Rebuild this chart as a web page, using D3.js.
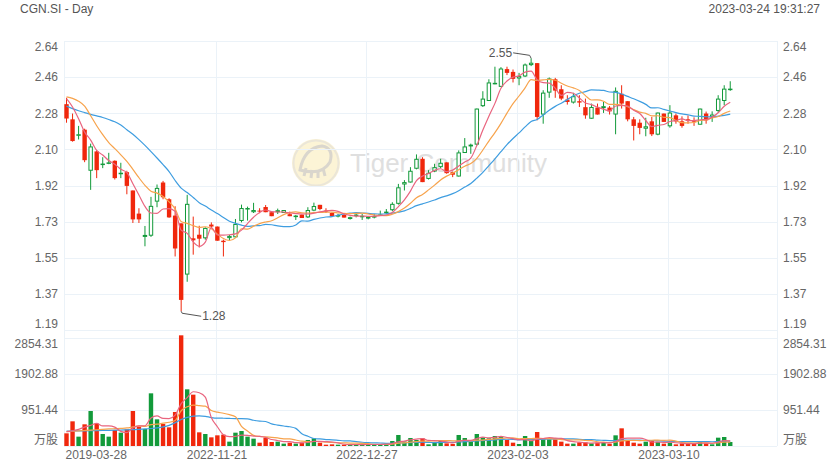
<!DOCTYPE html>
<html>
<head>
<meta charset="utf-8">
<script src="https://cdn.jsdelivr.net/npm/d3@7"></script>
<style>
  body { margin: 0; background: #fff; }
  svg text { font-family: "Liberation Sans", Arial, "Noto Sans CJK SC", sans-serif; }
</style>
</head>
<body>
<script>
// daily candles (index 0 = 2019-03-28, index 110 = 2023-03-24)
const opens = [2.323, 2.247, 2.167, 2.195, 1.989, 2.086, 2.020, 2.026, 2.039, 1.972,
  1.982, 1.890, 1.774, 1.657, 1.663, 1.834, 1.930, 1.846, 1.764, 1.725,
  1.468, 1.650, 1.668, 1.650, 1.719, 1.709, 1.638, 1.651, 1.655, 1.737,
  1.797, 1.781, 1.789, 1.807, 1.781, 1.781, 1.777, 1.771, 1.759, 1.769,
  1.755, 1.789, 1.818, 1.789, 1.777, 1.759, 1.767, 1.747, 1.762, 1.759,
  1.749, 1.754, 1.767, 1.776, 1.791, 1.823, 1.920, 1.930, 1.999, 2.049,
  1.948, 1.985, 2.007, 2.031, 1.982, 1.960, 2.078, 2.111, 2.120, 2.313,
  2.339, 2.425, 2.410, 2.499, 2.485, 2.452, 2.462, 2.519, 2.529, 2.271,
  2.381, 2.448, 2.398, 2.346, 2.331, 2.338, 2.308, 2.250, 2.306, 2.303,
  2.306, 2.271, 2.375, 2.338, 2.247, 2.230, 2.200, 2.237, 2.170, 2.276,
  2.212, 2.267, 2.237, 2.247, 2.242, 2.220, 2.276, 2.259, 2.289, 2.339,
  2.396]
const highs = [2.355, 2.276, 2.214, 2.200, 2.125, 2.091, 2.057, 2.079, 2.041, 2.029,
  1.989, 1.890, 1.801, 1.712, 1.858, 1.920, 1.938, 1.851, 1.811, 1.725,
  1.868, 1.759, 1.713, 1.705, 1.730, 1.709, 1.643, 1.667, 1.747, 1.819,
  1.809, 1.828, 1.801, 1.817, 1.781, 1.799, 1.792, 1.784, 1.767, 1.769,
  1.806, 1.829, 1.818, 1.801, 1.781, 1.772, 1.772, 1.759, 1.772, 1.772,
  1.762, 1.772, 1.789, 1.797, 1.831, 1.923, 1.942, 2.007, 2.071, 2.057,
  1.992, 2.024, 2.049, 2.031, 1.985, 2.091, 2.153, 2.125, 2.301, 2.388,
  2.448, 2.511, 2.509, 2.511, 2.497, 2.480, 2.527, 2.553, 2.529, 2.393,
  2.457, 2.455, 2.418, 2.368, 2.380, 2.368, 2.351, 2.326, 2.326, 2.334,
  2.314, 2.407, 2.418, 2.338, 2.259, 2.247, 2.255, 2.259, 2.281, 2.276,
  2.318, 2.276, 2.262, 2.267, 2.257, 2.301, 2.286, 2.287, 2.368, 2.418,
  2.438]
const lows = [2.230, 2.135, 2.146, 2.032, 1.893, 1.952, 2.002, 2.022, 1.945, 1.952,
  1.871, 1.727, 1.727, 1.610, 1.657, 1.806, 1.846, 1.753, 1.559, 1.284,
  1.432, 1.568, 1.604, 1.643, 1.700, 1.638, 1.559, 1.640, 1.655, 1.730,
  1.739, 1.777, 1.776, 1.781, 1.761, 1.772, 1.777, 1.761, 1.742, 1.752,
  1.752, 1.786, 1.791, 1.777, 1.761, 1.755, 1.754, 1.744, 1.755, 1.742,
  1.745, 1.750, 1.764, 1.771, 1.786, 1.819, 1.890, 1.930, 1.996, 1.932,
  1.945, 1.982, 2.002, 1.974, 1.957, 1.960, 2.078, 2.074, 2.116, 2.309,
  2.339, 2.423, 2.410, 2.469, 2.432, 2.418, 2.459, 2.514, 2.242, 2.225,
  2.355, 2.355, 2.343, 2.321, 2.326, 2.309, 2.250, 2.250, 2.271, 2.279,
  2.271, 2.172, 2.301, 2.237, 2.141, 2.172, 2.162, 2.163, 2.167, 2.234,
  2.205, 2.225, 2.205, 2.225, 2.214, 2.220, 2.225, 2.234, 2.281, 2.318,
  2.390]
const closes = [2.251, 2.138, 2.172, 2.042, 2.111, 1.992, 2.025, 2.031, 1.952, 1.979,
  1.913, 1.745, 1.745, 1.667, 1.813, 1.903, 1.856, 1.755, 1.599, 1.341,
  1.823, 1.640, 1.648, 1.702, 1.709, 1.638, 1.631, 1.662, 1.722, 1.802,
  1.802, 1.792, 1.784, 1.781, 1.761, 1.791, 1.792, 1.761, 1.764, 1.752,
  1.792, 1.812, 1.797, 1.786, 1.761, 1.767, 1.754, 1.756, 1.769, 1.763,
  1.757, 1.762, 1.770, 1.784, 1.823, 1.906, 1.932, 1.989, 2.049, 1.932,
  1.979, 2.007, 2.029, 1.977, 1.969, 2.081, 2.111, 2.120, 2.301, 2.351,
  2.432, 2.430, 2.502, 2.480, 2.450, 2.464, 2.522, 2.531, 2.259, 2.381,
  2.452, 2.391, 2.351, 2.334, 2.363, 2.331, 2.267, 2.309, 2.271, 2.313,
  2.287, 2.390, 2.326, 2.247, 2.214, 2.204, 2.212, 2.172, 2.281, 2.234,
  2.281, 2.237, 2.214, 2.239, 2.235, 2.301, 2.242, 2.271, 2.351, 2.401,
  2.401]
// volume (万股)
const volumes = [335, 652, 247, 573, 925, 590, 317, 247, 423, 352,
  440, 925, 511, 449, 1392, 705, 581, 493, 899, 2925,
  1498, 1357, 361, 317, 229, 282, 300, 115, 352, 396,
  247, 194, 88, 220, 106, 115, 62, 88, 62, 88,
  159, 203, 88, 35, 44, 35, 35, 35, 44, 35,
  53, 35, 44, 62, 132, 291, 120, 211, 159, 203,
  44, 97, 132, 70, 53, 291, 211, 115, 317, 229,
  203, 264, 264, 159, 88, 53, 264, 132, 370, 176,
  176, 176, 115, 62, 62, 97, 97, 70, 88, 88,
  62, 282, 467, 132, 88, 62, 115, 132, 106, 62,
  88, 44, 70, 62, 53, 132, 70, 44, 220, 238,
  106]
// moving average lines as drawn on the chart
const ma5 = [2.351, 2.309, 2.250, 2.183, 2.143, 2.091, 2.068, 2.040, 2.022, 1.996,
  1.980, 1.924, 1.867, 1.810, 1.777, 1.775, 1.797, 1.799, 1.785, 1.691,
  1.675, 1.632, 1.610, 1.631, 1.704, 1.667, 1.666, 1.668, 1.672, 1.691,
  1.724, 1.756, 1.780, 1.792, 1.784, 1.782, 1.782, 1.777, 1.774, 1.772,
  1.772, 1.776, 1.783, 1.788, 1.790, 1.785, 1.773, 1.765, 1.761, 1.762,
  1.760, 1.761, 1.764, 1.767, 1.779, 1.809, 1.843, 1.887, 1.940, 1.962,
  1.976, 1.991, 1.999, 1.985, 1.992, 2.013, 2.033, 2.052, 2.116, 2.193,
  2.263, 2.327, 2.403, 2.439, 2.459, 2.465, 2.484, 2.489, 2.445, 2.431,
  2.429, 2.403, 2.367, 2.382, 2.378, 2.354, 2.329, 2.321, 2.308, 2.298,
  2.289, 2.314, 2.317, 2.313, 2.293, 2.276, 2.241, 2.210, 2.217, 2.221,
  2.236, 2.241, 2.249, 2.241, 2.241, 2.245, 2.246, 2.258, 2.280, 2.313,
  2.333]
const ma10 = [2.360, 2.352, 2.338, 2.313, 2.265, 2.215, 2.170, 2.130, 2.100, 2.069,
  2.036, 1.996, 1.954, 1.916, 1.886, 1.877, 1.860, 1.833, 1.798, 1.734,
  1.725, 1.714, 1.705, 1.708, 1.698, 1.671, 1.649, 1.639, 1.652, 1.698,
  1.696, 1.711, 1.724, 1.732, 1.738, 1.753, 1.769, 1.779, 1.783, 1.778,
  1.777, 1.779, 1.780, 1.781, 1.781, 1.778, 1.775, 1.774, 1.775, 1.776,
  1.772, 1.767, 1.765, 1.764, 1.771, 1.784, 1.802, 1.826, 1.854, 1.870,
  1.893, 1.917, 1.943, 1.962, 1.977, 1.994, 2.012, 2.025, 2.051, 2.093,
  2.138, 2.180, 2.227, 2.278, 2.326, 2.364, 2.405, 2.446, 2.442, 2.445,
  2.447, 2.443, 2.428, 2.414, 2.405, 2.392, 2.366, 2.344, 2.345, 2.338,
  2.322, 2.322, 2.319, 2.310, 2.296, 2.283, 2.277, 2.264, 2.265, 2.257,
  2.256, 2.241, 2.230, 2.229, 2.231, 2.241, 2.244, 2.254, 2.261, 2.277,
  2.289]
const ma20 = [2.313, 2.301, 2.290, 2.281, 2.272, 2.264, 2.256, 2.246, 2.235, 2.218,
  2.195, 2.172, 2.145, 2.116, 2.085, 2.053, 2.020, 1.985, 1.940, 1.902,
  1.880, 1.855, 1.829, 1.812, 1.792, 1.774, 1.755, 1.736, 1.725, 1.716,
  1.710, 1.713, 1.714, 1.720, 1.718, 1.712, 1.709, 1.709, 1.717, 1.738,
  1.736, 1.745, 1.752, 1.757, 1.759, 1.766, 1.772, 1.776, 1.779, 1.777,
  1.775, 1.773, 1.772, 1.773, 1.776, 1.781, 1.788, 1.800, 1.814, 1.823,
  1.832, 1.842, 1.854, 1.863, 1.874, 1.889, 1.907, 1.925, 1.952, 1.981,
  2.015, 2.049, 2.085, 2.120, 2.151, 2.179, 2.209, 2.236, 2.246, 2.269,
  2.292, 2.312, 2.328, 2.346, 2.365, 2.378, 2.386, 2.395, 2.394, 2.392,
  2.384, 2.382, 2.374, 2.362, 2.350, 2.337, 2.322, 2.304, 2.305, 2.297,
  2.289, 2.281, 2.274, 2.270, 2.263, 2.262, 2.260, 2.259, 2.263, 2.267,
  2.273]
const vma5 = [380, 400, 440, 500, 546, 597, 530, 530, 500, 386,
  356, 477, 530, 535, 743, 796, 728, 724, 814, 1121,
  1279, 1434, 1408, 1292, 752, 509, 298, 249, 256, 289,
  282, 261, 255, 229, 171, 145, 118, 118, 87, 83,
  92, 120, 120, 115, 106, 81, 47, 37, 39, 37,
  40, 40, 42, 46, 65, 113, 130, 163, 183, 197,
  147, 143, 127, 109, 79, 129, 151, 148, 197, 233,
  215, 226, 255, 224, 196, 166, 166, 139, 181, 199,
  224, 206, 203, 141, 118, 102, 87, 78, 83, 88,
  81, 118, 197, 206, 206, 206, 173, 106, 101, 95,
  101, 86, 74, 65, 63, 72, 77, 72, 104, 141,
  136]
const vma10 = [380, 390, 400, 410, 420, 430, 440, 450, 458, 466,
  477, 504, 530, 518, 565, 576, 603, 627, 675, 932,
  1038, 1081, 1066, 1053, 937, 894, 866, 828, 774, 521,
  396, 279, 252, 242, 230, 213, 190, 187, 158, 127,
  118, 119, 119, 101, 94, 86, 84, 78, 77, 71,
  61, 44, 40, 42, 51, 77, 85, 103, 114, 131,
  130, 136, 145, 146, 138, 138, 147, 138, 153, 156,
  172, 189, 202, 211, 214, 190, 196, 197, 203, 197,
  195, 186, 171, 161, 159, 163, 146, 140, 112, 103,
  92, 102, 138, 145, 147, 144, 145, 152, 153, 151,
  153, 130, 90, 83, 79, 86, 82, 73, 85, 102,
  104]
const vma20 = [396, 398, 400, 402, 405, 408, 411, 414, 418, 422,
  427, 433, 440, 450, 463, 480, 505, 545, 615, 699,
  757, 792, 798, 785, 751, 735, 734, 728, 724, 726,
  717, 680, 659, 648, 583, 554, 528, 508, 466, 324,
  257, 199, 186, 171, 162, 150, 137, 133, 117, 99,
  89, 82, 79, 71, 73, 82, 84, 91, 95, 101,
  95, 90, 92, 94, 95, 107, 116, 120, 134, 143,
  151, 162, 173, 178, 176, 164, 171, 167, 178, 177,
  183, 187, 186, 186, 186, 177, 171, 169, 157, 150,
  143, 144, 154, 153, 153, 153, 146, 146, 133, 127,
  123, 116, 114, 114, 113, 115, 114, 112, 119, 126,
  129]

const priceLabels = ['2.64', '2.46', '2.28', '2.10', '1.92', '1.73', '1.55', '1.37', '1.19']
const volTicks = [2854.31, 1902.88, 951.44, 0]
const volLabels = ['2854.31', '1902.88', '951.44', '万股']
const dateIdx = [0, 25, 50, 75, 100]
const dateLabels = ['2019-03-28', '2022-11-21', '2022-12-27', '2023-02-03', '2023-03-10']

const width = 839
const height = 469
const plotLeft = 64, plotRight = 777
const plotTop = 41, priceBottom = 330, volTop = 338, volBottom = 446
const red = '#f0270c', green = '#129a3a'
const gridColor = '#ebf2f8'

const svg = d3.select('body').append('svg').attr('width', width).attr('height', height)

const pTop = +priceLabels[0], pBot = +priceLabels[priceLabels.length - 1]
const priceTicks = priceLabels.map((d, k) => pTop - k * (pTop - pBot) / (priceLabels.length - 1))

var x = d3.scaleBand().domain(d3.range(118)).range([63.5, 775.5])
var y = d3.scaleLinear().domain([pBot, pTop]).range([priceBottom, plotTop])
var yv = d3.scaleLinear().domain([0, 2854.31]).range([volBottom, volTop])
const cx = i => x(i) + x.bandwidth() / 2
const bw = 4.4

// watermark
const wm = svg.append('g').attr('opacity', 0.9)
wm.append('circle').attr('cx', 316).attr('cy', 163).attr('r', 24).attr('fill', '#fcf3d2')
wm.append('circle').attr('cx', 316).attr('cy', 163).attr('r', 22.5).attr('fill', 'none')
  .attr('stroke', '#e9e4d4').attr('stroke-width', 2)
wm.append('path').attr('d', 'M300,170 Q304,148 322,146 Q334,148 330,162 Q322,176 300,170 Z')
  .attr('fill', 'none').attr('stroke', '#d6d2c8').attr('stroke-width', 3)
wm.append('path').attr('d', 'M304,176 L306,168 M311,178 L312,170 M318,178 L318,170 M325,176 L323,168')
  .attr('stroke', '#d6d2c8').attr('stroke-width', 3)
wm.append('text').attr('x', 350).attr('y', 163).attr('dy', '0.35em')
  .attr('font-size', 26).attr('fill', '#dcdcdc').text('Tiger Community')

// grid
const grid = svg.append('g').attr('stroke', gridColor).attr('stroke-width', 1)
grid.selectAll('line.h').data(priceTicks).enter().append('line')
  .attr('x1', plotLeft).attr('x2', plotRight)
  .attr('y1', d => Math.round(y(d)) + 0.5).attr('y2', d => Math.round(y(d)) + 0.5)
grid.selectAll('line.v').data(volTicks).enter().append('line')
  .attr('x1', plotLeft).attr('x2', plotRight)
  .attr('y1', d => Math.round(yv(d)) + 0.5).attr('y2', d => Math.round(yv(d)) + 0.5)
grid.selectAll('line.d').data(dateIdx.slice(1)).enter().append('line')
  .attr('x1', d => Math.round(x(d) + 1.2) + 0.5).attr('x2', d => Math.round(x(d) + 1.2) + 0.5)
  .attr('y1', plotTop).attr('y2', volBottom)
grid.selectAll('line.b').data([plotLeft, plotRight]).enter().append('line')
  .attr('x1', d => d + 0.5).attr('x2', d => d + 0.5)
  .attr('y1', plotTop).attr('y2', volBottom)

// candles
const idx = d3.range(closes.length)
const up = i => closes[i] >= opens[i]

svg.append('g').selectAll('line').data(idx).enter().append('line')
  .attr('x1', i => cx(i)).attr('x2', i => cx(i))
  .attr('y1', i => y(highs[i])).attr('y2', i => y(lows[i]))
  .attr('stroke', i => up(i) ? green : red).attr('stroke-width', 1)

svg.append('g').selectAll('rect').data(idx).enter().append('rect')
  .attr('x', i => up(i) ? cx(i) - bw / 2 + 0.5 : cx(i) - bw / 2)
  .attr('width', i => up(i) ? bw - 1 : bw)
  .attr('y', i => {
    const t = y(Math.max(opens[i], closes[i]))
    return up(i) ? t + 0.5 : t
  })
  .attr('height', i => {
    const h = y(Math.min(opens[i], closes[i])) - y(Math.max(opens[i], closes[i]))
    return up(i) ? Math.max(h - 1, 0.5) : Math.max(h, 1)
  })
  .attr('fill', i => up(i) ? '#fff' : red)
  .attr('stroke', i => up(i) ? green : 'none')
  .attr('stroke-width', 1)

// moving averages
const maColors = ['#e9657f', '#f7a34c', '#3e9de0']
const line = d3.line().x((d, i) => cx(i)).y(d => y(d)).curve(d3.curveMonotoneX)
svg.append('g').selectAll('path').data([ma20, ma10, ma5]).enter().append('path')
  .attr('d', line)
  .attr('fill', 'none')
  .attr('stroke', (d, k) => maColors[2 - k])
  .attr('stroke-width', 1.2)

// high / low marks
const hi = d3.maxIndex(highs), lo = d3.minIndex(lows)
const hx = cx(hi), hy = y(highs[hi])
const lx = cx(lo), ly = y(lows[lo])
svg.append('path').attr('d', `M${hx},${hy} L${hx - 1.5},${hy - 3} L${hx - 18},${hy - 5.5}`)
  .attr('fill', 'none').attr('stroke', '#555').attr('stroke-width', 1)
svg.append('text').attr('x', hx - 19).attr('y', hy - 5.5).attr('dy', '0.35em')
  .attr('text-anchor', 'end').attr('font-size', 12).attr('fill', '#555')
  .text(highs[hi].toFixed(2))
svg.append('path').attr('d', `M${lx},${ly} L${lx + 1},${ly + 2} L${lx + 20},${ly + 5}`)
  .attr('fill', 'none').attr('stroke', '#555').attr('stroke-width', 1)
svg.append('text').attr('x', lx + 21).attr('y', ly + 5).attr('dy', '0.35em')
  .attr('font-size', 12).attr('fill', '#555')
  .text(lows[lo].toFixed(2))

// volume
svg.append('g').selectAll('rect').data(idx).enter().append('rect')
  .attr('x', i => cx(i) - bw / 2)
  .attr('width', bw)
  .attr('y', i => yv(volumes[i]))
  .attr('height', i => volBottom - yv(volumes[i]))
  .attr('fill', i => up(i) ? green : red)

const vline = d3.line().x((d, i) => cx(i)).y(d => yv(d)).curve(d3.curveMonotoneX)
svg.append('g').selectAll('path').data([vma20, vma10, vma5]).enter().append('path')
  .attr('d', vline)
  .attr('fill', 'none')
  .attr('stroke', (d, k) => maColors[2 - k])
  .attr('stroke-width', 1.2)

// axes
function styleAxis(g) {
  g.select('.domain').remove()
  g.attr('font-size', 12).attr('font-family', '"Liberation Sans", Arial, "Noto Sans CJK SC", sans-serif')
  g.selectAll('.tick text').attr('fill', '#666')
}

const pl = svg.append('g').attr('transform', `translate(58,0)`)
  .call(d3.axisLeft(y).tickValues(priceTicks).tickSize(0).tickPadding(0).tickFormat((d, i) => priceLabels[i]))
const pr = svg.append('g').attr('transform', `translate(783,0)`)
  .call(d3.axisRight(y).tickValues(priceTicks).tickSize(0).tickPadding(0).tickFormat((d, i) => priceLabels[i]))
const vl = svg.append('g').attr('transform', `translate(58,0)`)
  .call(d3.axisLeft(yv).tickValues(volTicks).tickSize(0).tickPadding(0).tickFormat((d, i) => volLabels[i]))
const vr = svg.append('g').attr('transform', `translate(783,0)`)
  .call(d3.axisRight(yv).tickValues(volTicks).tickSize(0).tickPadding(0).tickFormat((d, i) => volLabels[i]))
;[pl, pr, vl, vr].forEach(g => {
  styleAxis(g)
  const t = g.selectAll('.tick text')
  t.filter((d, i) => i === 0).attr('transform', 'translate(0,5.5)')
  t.filter((d, i, n) => i === n.length - 1).attr('transform', 'translate(0,-6)')
})

var scaleXReal = d3.scaleOrdinal().domain(dateLabels).range(dateIdx.map(i => Math.round(x(i) + 1.2) + 0.5))
const xa = svg.append('g').attr('transform', `translate(0, ${volBottom})`)
  .call(d3.axisBottom(scaleXReal).tickSize(0).tickPadding(4))
styleAxis(xa)
xa.select('.tick text').attr('text-anchor', 'start').attr('dx', -0.5)

// header
svg.append('text').attr('x', 20).attr('y', 12.5).attr('font-size', 12).attr('fill', '#555')
  .text('CGN.SI - Day')
svg.append('text').attr('x', 820).attr('y', 12.5).attr('font-size', 12).attr('fill', '#555')
  .attr('text-anchor', 'end').text('2023-03-24 19:31:27')
</script>
</body>
</html>
